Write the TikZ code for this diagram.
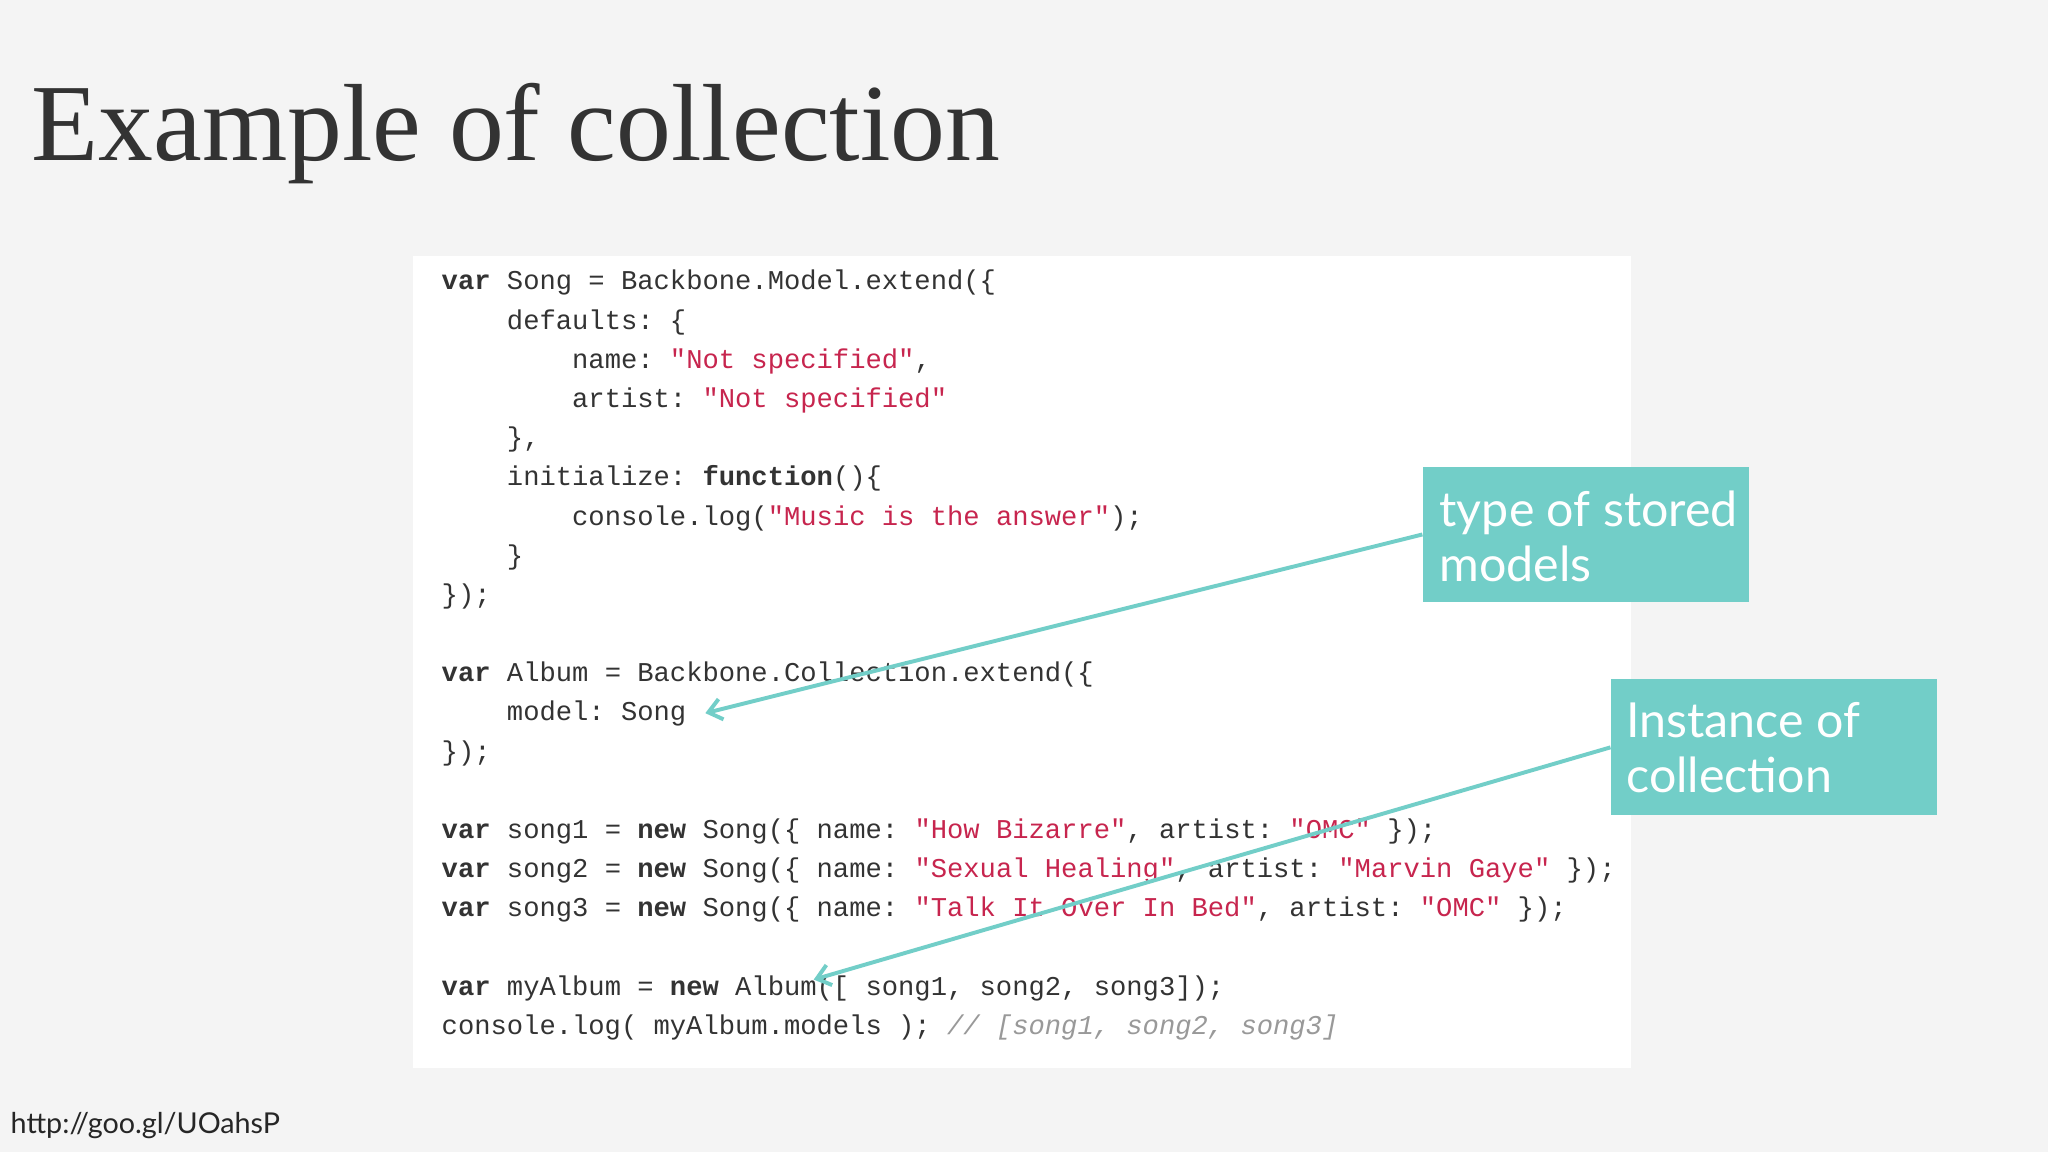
\documentclass[tikz,border=0pt]{standalone}
\usepackage{fontspec}
\setmainfont{Liberation Serif}
\setmonofont{Liberation Mono}
\newfontfamily\lato{Lato}
\usetikzlibrary{arrows.meta}
\definecolor{bg}{HTML}{F4F4F4}
\definecolor{teal}{HTML}{72CEC8}
\definecolor{strc}{HTML}{C7254E}
\definecolor{codec}{HTML}{333333}
\definecolor{cmtc}{HTML}{999999}
\newcommand{\kwd}[1]{\textbf{#1}}
\newcommand{\strg}[1]{\textcolor{strc}{#1}}
\newcommand{\cmt}[1]{\textcolor{cmtc}{\itshape #1}}
\tikzset{
  codeline/.style={anchor=base west,inner sep=0pt,font=\ttfamily\fontsize{20.8}{24}\selectfont,text=codec},
  callout/.style={fill=teal,anchor=north west,inner sep=0pt,minimum width=250pt,minimum height=104pt},
  callouttext/.style={anchor=base west,inner sep=0pt,text=white,font=\lato\fontsize{37}{42}\selectfont},
  pointer/.style={draw=teal,line width=3pt,-{Straight Barb[length=10pt,width=16pt]}}
}
\begin{document}
\begin{tikzpicture}[x=1pt,y=-1pt]
\fill[bg] (0,0) rectangle (1568,882);
\useasboundingbox (0,0) rectangle (1568,882);
\node[anchor=base west,inner sep=0pt,text=codec,font=\fontsize{84}{90}\selectfont] (title) at (24,123) {Example of collection};
\fill[white] (316,196) rectangle (1249,818);
\node[codeline] (l1) at (338,222) {\kwd{var} Song = Backbone.Model.extend(\{};
\node[codeline] (l2) at (338,252) {\ \ \ \ defaults: \{};
\node[codeline] (l3) at (338,282) {\ \ \ \ \ \ \ \ name: \strg{"Not specified"},};
\node[codeline] (l4) at (338,312) {\ \ \ \ \ \ \ \ artist: \strg{"Not specified"}};
\node[codeline] (l5) at (338,342) {\ \ \ \ \},};
\node[codeline] (l6) at (338,372) {\ \ \ \ initialize: \kwd{function}()\{};
\node[codeline] (l7) at (338,402) {\ \ \ \ \ \ \ \ console.log(\strg{"Music is the answer"});};
\node[codeline] (l8) at (338,432) {\ \ \ \ \}};
\node[codeline] (l9) at (338,462) {\});};
\node[codeline] (l10) at (338,522) {\kwd{var} Album = Backbone.Collection.extend(\{};
\node[codeline] (l11) at (338,552) {\ \ \ \ model: Song};
\node[codeline] (l12) at (338,582) {\});};
\node[codeline] (l13) at (338,642) {\kwd{var} song1 = \kwd{new} Song(\{ name: \strg{"How Bizarre"}, artist: \strg{"OMC"} \});};
\node[codeline] (l14) at (338,672) {\kwd{var} song2 = \kwd{new} Song(\{ name: \strg{"Sexual Healing"}, artist: \strg{"Marvin Gaye"} \});};
\node[codeline] (l15) at (338,702) {\kwd{var} song3 = \kwd{new} Song(\{ name: \strg{"Talk It Over In Bed"}, artist: \strg{"OMC"} \});};
\node[codeline] (l16) at (338,762) {\kwd{var} myAlbum = \kwd{new} Album([ song1, song2, song3]);};
\node[codeline] (l17) at (338,792) {console.log( myAlbum.models ); \cmt{// [song1, song2, song3]}};
\node[callout] (b1) at (1089,357) {};
\node[callouttext] (t1a) at (1102,403) {type of stored};
\node[callouttext] (t1b) at (1102,445) {models};
\node[callout] (b2) at (1233,520) {};
\node[callouttext] (t2a) at (1245,565) {Instance of};
\node[callouttext] (t2b) at (1245,607) {collection};
\coordinate (p1) at (540,546);
\coordinate (p2) at (623,750);
\draw[pointer] (b1.west) -- (p1);
\draw[pointer] (b2.west) -- (p2);
\node[anchor=base west,inner sep=0pt,text=black!85,font=\lato\fontsize{22}{26}\selectfont] (url) at (8,868) {http://goo.gl/UOahsP};
\end{tikzpicture}
\end{document}
